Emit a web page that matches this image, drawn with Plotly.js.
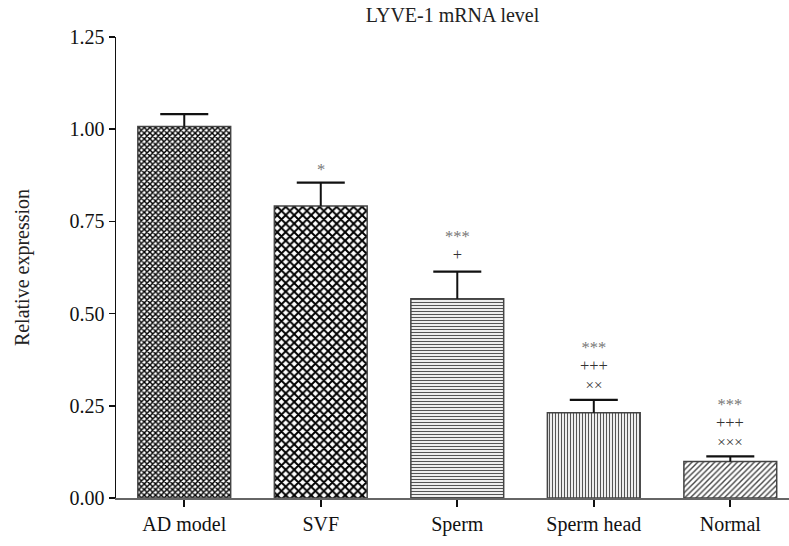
<!DOCTYPE html>
<html>
<head>
<meta charset="utf-8">
<script src="https://cdn.plot.ly/plotly-3.0.1.min.js"></script>
<style>
  html, body { margin: 0; padding: 0; background: #fff; }
  #chart { width: 789px; height: 546px; }
</style>
</head>
<body>
<div id="chart"></div>
<script>
// ---- data ----
var categories = ["AD model", "SVF", "Sperm", "Sperm head", "Normal"];
var expression = [1.007, 0.792, 0.540, 0.231, 0.099];
var errorUpper = [0.034, 0.063, 0.074, 0.035, 0.014];
var sigStar  = ["", "*", "***", "***", "***"];
var sigPlus  = ["", "", "+", "+++", "+++"];
var sigCross = ["", "", "", "××", "×××"];
var yTickValues = [0, 0.25, 0.5, 0.75, 1.0, 1.25];

// ---- styles ----
var SERIF = "'Liberation Serif', 'Times New Roman', serif";
var patterns = [
  {shape: "x", size: 4, solidity: 0.6, fgcolor: "#000", bgcolor: "#fff"},
  {shape: "x", size: 6, solidity: 0.55, fgcolor: "#000", bgcolor: "#fff"},
  {shape: "-", size: 3, solidity: 0.4, fgcolor: "#555", bgcolor: "#fff"},
  {shape: "|", size: 3, solidity: 0.4, fgcolor: "#555", bgcolor: "#fff"},
  {shape: "/", size: 4, solidity: 0.35, fgcolor: "#444", bgcolor: "#fff"}
];

var capTops = expression.map(function (v, i) { return v + errorUpper[i]; });

var traces = categories.map(function (c, i) {
  return {
    type: "bar",
    x: [c],
    y: [expression[i]],
    width: 0.68,
    marker: {
      color: "#fff",
      line: {color: "#444", width: 1.5},
      pattern: patterns[i]
    },
    error_y: {
      type: "data", symmetric: false,
      array: [errorUpper[i]], arrayminus: [0],
      width: 0, thickness: 2, color: "#111"
    },
    showlegend: false,
    hoverinfo: "skip"
  };
});

traces.push({
  type: "scatter",
  mode: "markers",
  x: categories,
  y: capTops,
  marker: {symbol: "line-ew", size: 34.3, line: {color: "#111", width: 2.2}},
  showlegend: false,
  hoverinfo: "skip",
  cliponaxis: false
});

// significance marks: one stacked text block above each cap
var rowStyle = {
  star:  "font-size:16.5px;fill:#777",
  plus:  "font-size:16.5px;fill:#333",
  cross: "font-size:15px;fill:#333"
};
var bottomShift = {star: 1.5, plus: 5.5, cross: 4.5};
var annotations = [];
categories.forEach(function (c, i) {
  var lines = [];
  var bottom = null;
  if (sigStar[i])  { lines.push('<span style="' + rowStyle.star + '">' + sigStar[i] + '</span>'); bottom = "star"; }
  if (sigPlus[i])  { lines.push('<span style="' + rowStyle.plus + '">' + sigPlus[i] + '</span>'); bottom = "plus"; }
  if (sigCross[i]) { lines.push('<span style="' + rowStyle.cross + '">' + sigCross[i] + '</span>'); bottom = "cross"; }
  if (!lines.length) return;
  annotations.push({
    x: c, y: capTops[i], xref: "x", yref: "y",
    text: lines.join("<br>"), showarrow: false,
    yanchor: "bottom", yshift: bottomShift[bottom],
    font: {family: SERIF, size: 14.23, color: "#333"}
  });
});

var layout = {
  width: 789, height: 546,
  margin: {l: 116, r: 0, t: 37, b: 48},
  paper_bgcolor: "#fff", plot_bgcolor: "#fff",
  barmode: "overlay",
  title: {
    text: "LYVE-1 mRNA level",
    x: 0.5, xref: "paper", y: 0.972, yref: "container", yanchor: "middle",
    font: {family: SERIF, size: 20, color: "#222"}
  },
  xaxis: {
    type: "category",
    categoryorder: "array", categoryarray: categories,
    range: [-0.5, 4.43],
    showline: true, linecolor: "#666", linewidth: 2,
    ticks: "outside", ticklen: 7, tickwidth: 2, tickcolor: "#111",
    showgrid: false, zeroline: false,
    tickfont: {family: SERIF, size: 20, color: "#111"}
  },
  yaxis: {
    range: [0, 1.25],
    tickvals: yTickValues,
    tickformat: ".2f",
    showline: true, linecolor: "#111", linewidth: 1.5,
    ticks: "outside", ticklen: 6, tickwidth: 1.5, tickcolor: "#111",
    showgrid: false, zeroline: false,
    tickfont: {family: SERIF, size: 20, color: "#111"},
    title: {text: "Relative expression", standoff: 34,
            font: {family: SERIF, size: 20, color: "#222"}}
  },
  annotations: annotations
};

Plotly.newPlot("chart", traces, layout, {displayModeBar: false, staticPlot: true});
</script>
</body>
</html>
